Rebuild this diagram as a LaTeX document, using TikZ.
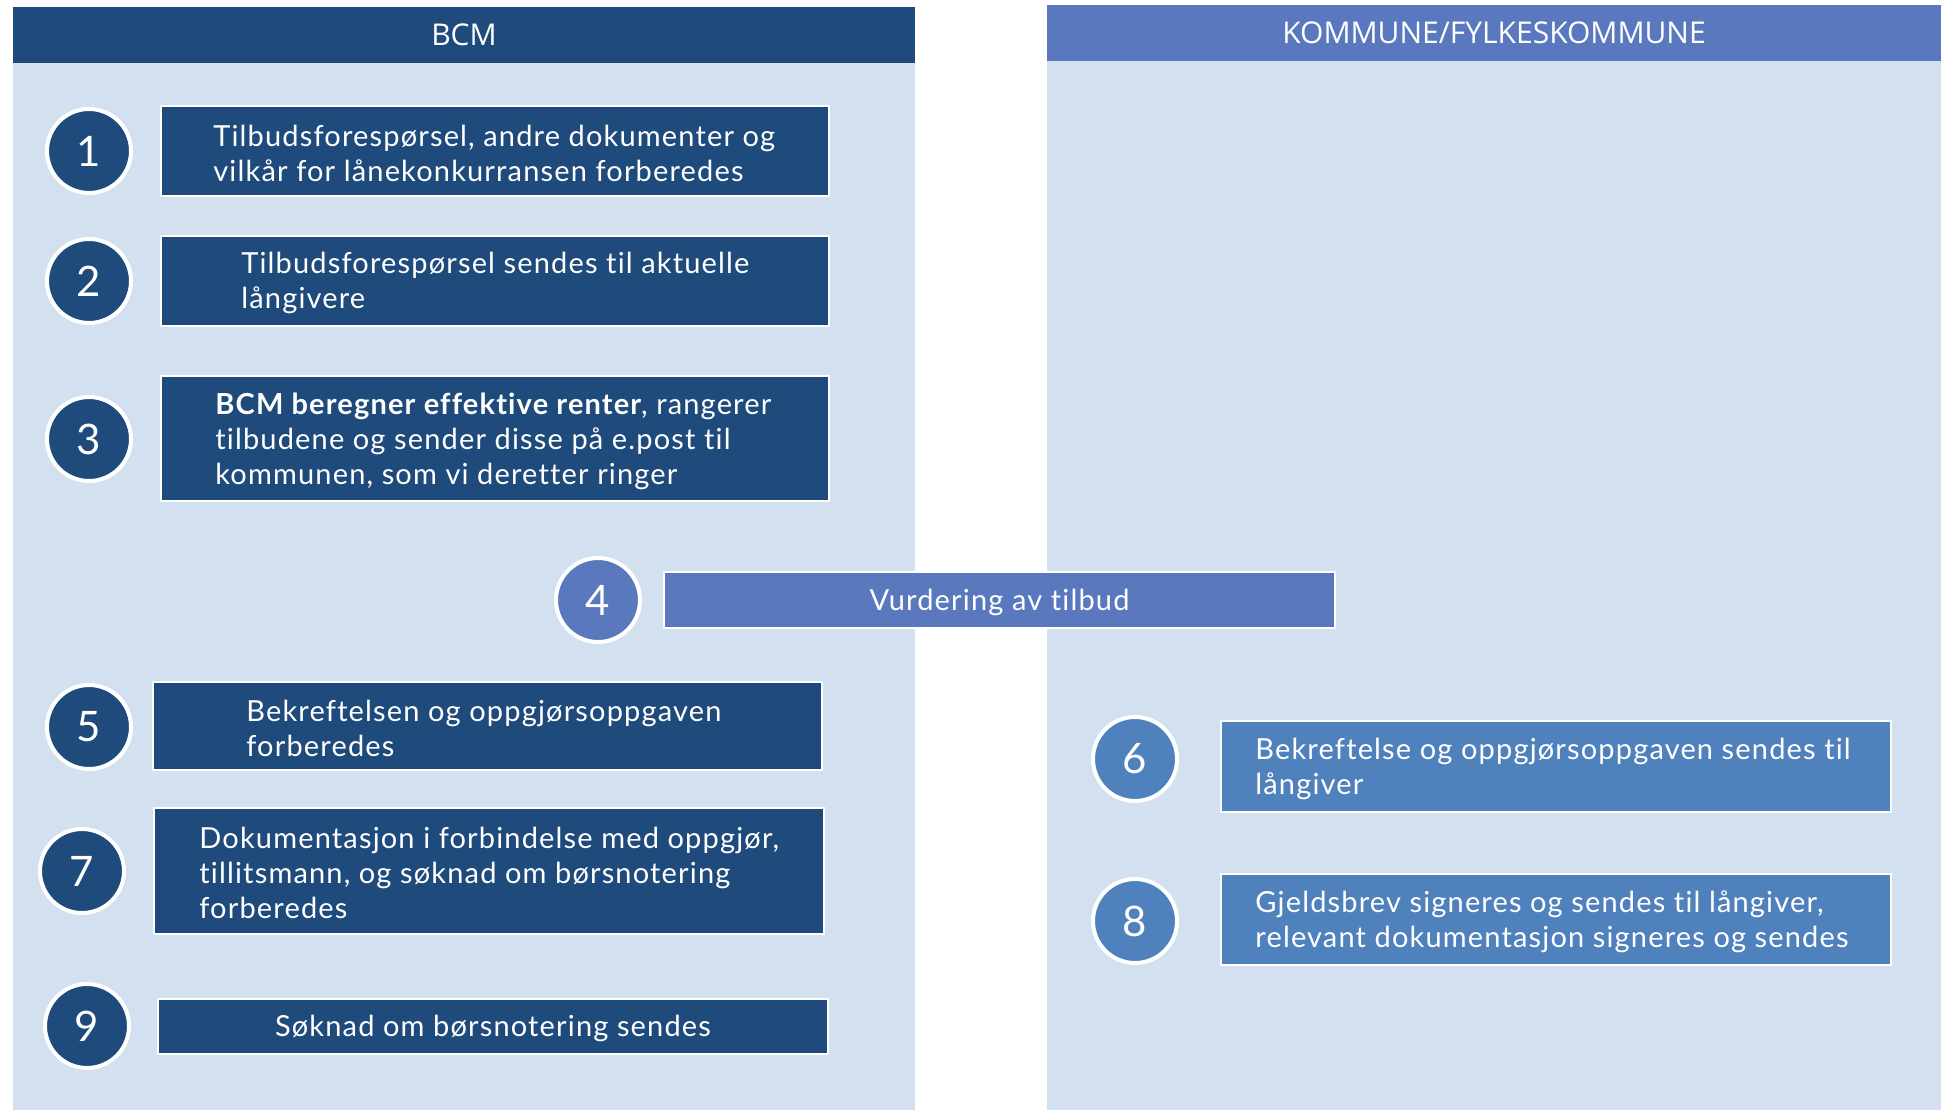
\documentclass[tikz,border=0pt]{standalone}
\usepackage{fontspec}
\setmainfont{Lato}
\newfontfamily\headfont{Open Sans}
\newfontfamily\stepfont[LetterSpace=4,Ligatures={NoCommon,TeX}]{Lato}
\usetikzlibrary{fit}
\definecolor{navy}{HTML}{1F4A7C}
\definecolor{panel}{HTML}{D3E0F0}
\definecolor{midblue}{HTML}{5A78BE}
\definecolor{accblue}{HTML}{4F81BD}
\tikzset{
  panelbox/.style={fill=panel, draw=none, inner sep=0pt},
  headbox/.style={draw=none, inner sep=0pt, text=white, font=\headfont\fontsize{15}{17}\selectfont},
  stepbox/.style={draw=white, line width=1pt, inner sep=0pt},
  numcirc/.style={circle, draw=white, line width=2pt, minimum size=42pt, inner sep=0pt, text=white, font=\fontsize{21}{24}\selectfont},
  steptext/.style={anchor=west, inner sep=0pt, align=left, text=white, font=\stepfont\fontsize{14.5}{17.5}\selectfont},
  ctext/.style={inner sep=0pt, align=center, text=white, font=\stepfont\fontsize{14.5}{17.5}\selectfont}
}
\begin{document}
\begin{tikzpicture}[x=0.5pt, y=-0.5pt]
\useasboundingbox (0,0) rectangle (1941,1112);
% panels
\node[panelbox, fit={(13,7) (915,1110)}] (pl) {};
\node[panelbox, fit={(1047,5) (1941,1110)}] (pr) {};
\node[headbox, fill=navy, fit={(13,7) (915,63)}] (hl) {};
\node[headbox] (hlt) at (hl.center) {BCM};
\node[headbox, fill=midblue, fit={(1047,5) (1941,61)}] (hr) {};
\node[headbox] (hrt) at (hr.center) {KOMMUNE/FYLKESKOMMUNE};
% step 1
\node[numcirc, fill=navy] (c1) at (89,151) {1};
\node[stepbox, fill=navy, fit={(161,106) (829,196)}] (b1) {};
\node[steptext] (t1) at (213,153) {Tilbudsforespørsel, andre dokumenter og\\vilkår for lånekonkurransen forberedes};
% step 2
\node[numcirc, fill=navy] (c2) at (89,281) {2};
\node[stepbox, fill=navy, fit={(161,236) (829,326)}] (b2) {};
\node[steptext] (t2) at (241,283) {Tilbudsforespørsel sendes til aktuelle\\långivere};
% step 3
\node[numcirc, fill=navy] (c3) at (89,439) {3};
\node[stepbox, fill=navy, fit={(161,376) (829,501)}] (b3) {};
\node[steptext] (t3) at (215,441) {\textbf{BCM beregner effektive renter}, rangerer\\tilbudene og sender disse på e.post til\\kommunen, som vi deretter ringer};
% step 4
\node[numcirc, fill=midblue] (c4) at (598,600) {4};
\node[stepbox, fill=midblue, fit={(664,572) (1335,628)}] (b4) {};
\node[ctext] (t4) at ([yshift=-1pt]b4.center) {Vurdering av tilbud};
% step 5
\node[numcirc, fill=navy] (c5) at (89,727) {5};
\node[stepbox, fill=navy, fit={(153,682) (822,770)}] (b5) {};
\node[steptext] (t5) at (246,728) {Bekreftelsen og oppgjørsoppgaven\\forberedes};
% step 6
\node[numcirc, fill=accblue] (c6) at (1135,759) {6};
\node[stepbox, fill=accblue, fit={(1221,721) (1891,812)}] (b6) {};
\node[steptext] (t6) at (1255,769) {Bekreftelse og oppgjørsoppgaven sendes til\\långiver};
% step 7
\node[numcirc, fill=navy] (c7) at (82,871) {7};
\node[stepbox, fill=navy, fit={(154,808) (824,934)}] (b7) {};
\node[steptext] (t7) at (199,873) {Dokumentasjon i forbindelse med oppgjør,\\tillitsmann, og søknad om børsnotering\\forberedes};
% step 8
\node[numcirc, fill=accblue] (c8) at (1135,921) {8};
\node[stepbox, fill=accblue, fit={(1221,874) (1891,965)}] (b8) {};
\node[steptext] (t8) at (1255,922) {Gjeldsbrev signeres og sendes til långiver,\\relevant dokumentasjon signeres og sendes};
% step 9
\node[numcirc, fill=navy] (c9) at (87,1026) {9};
\node[stepbox, fill=navy, fit={(158,999) (828,1054)}] (b9) {};
\node[ctext] (t9) at ([yshift=-1pt]b9.center) {Søknad om børsnotering sendes};
\end{tikzpicture}
\end{document}
